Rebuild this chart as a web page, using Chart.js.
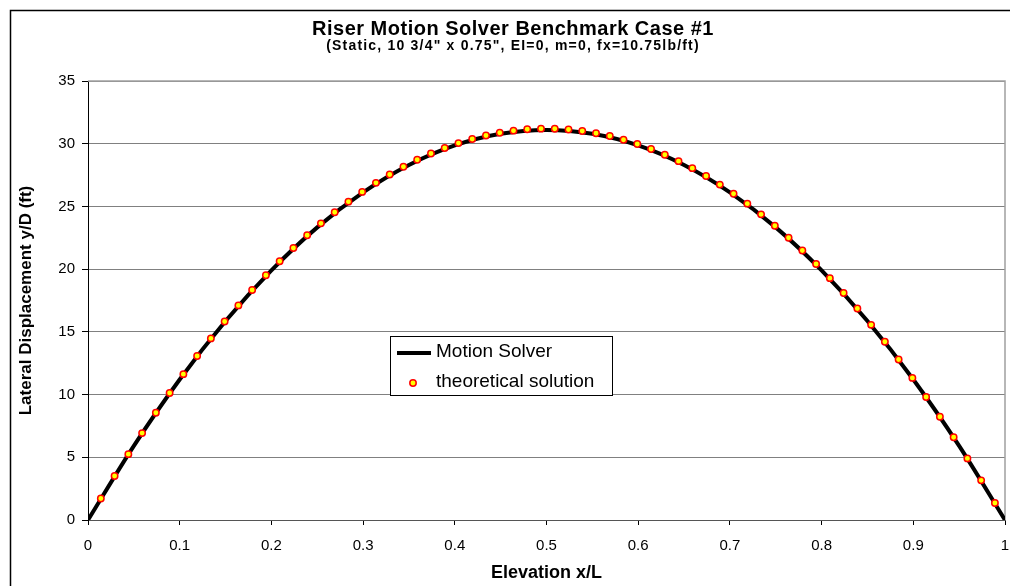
<!DOCTYPE html>
<html>
<head>
<meta charset="utf-8">
<script src="https://cdn.jsdelivr.net/npm/chart.js@4.4.2/dist/chart.umd.min.js"></script>
<style>
  html, body { margin: 0; padding: 0; background: #fff; }
</style>
</head>
<body>
<canvas id="chart" width="1010" height="586"></canvas>
<script>
const chartTitle = 'Riser Motion Solver Benchmark Case #1';
const chartSubtitle = '(Static, 10 3/4" x 0.75", EI=0, m=0, fx=10.75lb/ft)';

// Motion Solver curve
const solverX = [0, 0.05, 0.1, 0.15, 0.2, 0.25, 0.3, 0.35, 0.4, 0.45, 0.5,
                 0.55, 0.6, 0.65, 0.7, 0.75, 0.8, 0.85, 0.9, 0.95, 1];
const solverY = [0, 5.91, 11.2, 15.86, 19.9, 23.33, 26.12, 28.3, 29.86, 30.79, 31.1,
                 30.79, 29.86, 28.3, 26.12, 23.33, 19.9, 15.86, 11.2, 5.91, 0];

// theoretical solution points
const theoryX = [0.014, 0.029, 0.044, 0.059, 0.074, 0.089, 0.104, 0.119, 0.134, 0.149,
                 0.164, 0.179, 0.194, 0.209, 0.224, 0.239, 0.254, 0.269, 0.284, 0.299,
                 0.314, 0.329, 0.344, 0.359, 0.374, 0.389, 0.404, 0.419, 0.434, 0.449,
                 0.464, 0.479, 0.494, 0.509, 0.524, 0.539, 0.554, 0.569, 0.584, 0.599,
                 0.614, 0.629, 0.644, 0.659, 0.674, 0.689, 0.704, 0.719, 0.734, 0.749,
                 0.764, 0.779, 0.794, 0.809, 0.824, 0.839, 0.854, 0.869, 0.884, 0.899,
                 0.914, 0.929, 0.944, 0.959, 0.974, 0.989];
const theoryY = [1.72, 3.51, 5.25, 6.93, 8.55, 10.12, 11.63, 13.08, 14.48, 15.83,
                 17.11, 18.34, 19.51, 20.63, 21.69, 22.7, 23.65, 24.54, 25.38, 26.16,
                 26.88, 27.55, 28.16, 28.72, 29.22, 29.66, 30.05, 30.38, 30.66, 30.88,
                 31.04, 31.15, 31.2, 31.19, 31.13, 31.01, 30.84, 30.61, 30.32, 29.98,
                 29.58, 29.12, 28.61, 28.05, 27.42, 26.74, 26.01, 25.22, 24.37, 23.46,
                 22.5, 21.49, 20.41, 19.28, 18.1, 16.86, 15.56, 14.21, 12.8, 11.33,
                 9.81, 8.23, 6.6, 4.91, 3.16, 1.36];

const xTickLabels = ['0', '0.1', '0.2', '0.3', '0.4', '0.5', '0.6', '0.7', '0.8', '0.9', '1'];
const yTickLabels = ['0', '5', '10', '15', '20', '25', '30', '35'];

const FONT = '"Liberation Sans", Arial, sans-serif';

const decor = {
    id: 'decor',
    beforeDraw(chart) {
        const c = chart.ctx;
        c.save();
        c.fillStyle = '#fff';
        c.fillRect(0, 0, chart.width, chart.height);
        // outer frame
        c.strokeStyle = '#000';
        c.lineWidth = 1.5;
        c.beginPath();
        c.moveTo(10.5, chart.height);
        c.lineTo(10.5, 10.5);
        c.lineTo(chart.width, 10.5);
        c.stroke();
        // titles
        c.fillStyle = '#000';
        c.textAlign = 'center';
        c.textBaseline = 'alphabetic';
        c.font = 'bold 20px ' + FONT;
        c.letterSpacing = '0.5px';
        c.fillText(chartTitle, 513, 35);
        c.font = 'bold 14px ' + FONT;
        c.letterSpacing = '1.2px';
        c.fillText(chartSubtitle, 513, 50);
        c.restore();
    },
    beforeDatasetsDraw(chart) {
        const c = chart.ctx;
        const {left, top, right, bottom} = chart.chartArea;
        c.save();
        c.strokeStyle = '#a0a0a0';
        c.lineWidth = 1.5;
        c.beginPath();
        c.moveTo(left, top);
        c.lineTo(right, top);
        c.lineTo(right, bottom);
        c.stroke();
        c.restore();
    },
    afterDraw(chart) {
        const c = chart.ctx;
        const ds = chart.data.datasets;
        c.save();
        c.fillStyle = '#fff';
        c.fillRect(390, 336, 222, 59);
        c.strokeStyle = '#000';
        c.lineWidth = 1;
        c.strokeRect(390.5, 336.5, 222, 59);
        // line sample
        c.strokeStyle = ds[0].borderColor;
        c.lineWidth = ds[0].borderWidth;
        c.beginPath();
        c.moveTo(397, 353);
        c.lineTo(431, 353);
        c.stroke();
        // point sample
        c.beginPath();
        c.arc(413, 383, ds[1].pointRadius, 0, Math.PI * 2);
        c.fillStyle = ds[1].pointBackgroundColor;
        c.fill();
        c.strokeStyle = ds[1].pointBorderColor;
        c.lineWidth = ds[1].pointBorderWidth;
        c.stroke();
        // labels
        c.fillStyle = '#000';
        c.font = '19px ' + FONT;
        c.textAlign = 'left';
        c.textBaseline = 'middle';
        c.fillText(ds[0].label, 436, 352);
        c.fillText(ds[1].label, 436, 381.5);
        c.restore();
    }
};

new Chart(document.getElementById('chart'), {
    type: 'scatter',
    data: {
        datasets: [{
            label: 'Motion Solver',
            data: solverX.map((x, i) => ({x, y: solverY[i]})),
            showLine: true,
            borderColor: '#000',
            borderWidth: 4,
            pointRadius: 0,
            cubicInterpolationMode: 'monotone',
            order: 1
        }, {
            label: 'theoretical solution',
            data: theoryX.map((x, i) => ({x, y: theoryY[i]})),
            showLine: false,
            pointRadius: 3.2,
            pointBorderWidth: 1.5,
            pointBackgroundColor: '#ffff00',
            pointBorderColor: '#ff0000',
            order: 0
        }]
    },
    options: {
        responsive: false,
        animation: false,
        devicePixelRatio: 1,
        layout: {
            autoPadding: false,
            padding: {top: 81, right: 5, left: 0, bottom: 0}
        },
        plugins: {
            legend: {display: false},
            tooltip: {enabled: false}
        },
        scales: {
            x: {
                type: 'linear',
                min: 0,
                max: 1,
                afterFit: s => {
                    s.height = 66;
                    s.paddingLeft = 0;
                    s.paddingRight = 0;
                },
                border: {color: '#555', width: 1},
                grid: {
                    drawOnChartArea: false,
                    tickLength: 5,
                    tickColor: '#000'
                },
                ticks: {
                    stepSize: 0.1,
                    padding: 12,
                    color: '#000',
                    font: {family: FONT, size: 15},
                    callback: (v, i) => xTickLabels[i]
                },
                title: {
                    display: true,
                    text: 'Elevation x/L',
                    color: '#000',
                    font: {family: FONT, size: 18, weight: 'bold'},
                    padding: {top: 0, bottom: 2}
                }
            },
            y: {
                min: 0,
                max: 35,
                afterFit: s => {
                    s.width = 88;
                    s.paddingTop = 0;
                    s.paddingBottom = 0;
                },
                border: {color: '#000', width: 1},
                grid: {
                    color: '#808080',
                    lineWidth: 1,
                    tickLength: 6,
                    tickColor: '#000'
                },
                ticks: {
                    stepSize: 5,
                    padding: 7,
                    color: '#000',
                    font: {family: FONT, size: 15},
                    callback: (v, i) => yTickLabels[i]
                },
                title: {
                    display: true,
                    text: 'Lateral Displacement y/D (ft)',
                    color: '#000',
                    font: {family: FONT, size: 17, weight: 'bold'},
                    padding: {top: 16, bottom: 0}
                }
            }
        }
    },
    plugins: [decor]
});
</script>
</body>
</html>
